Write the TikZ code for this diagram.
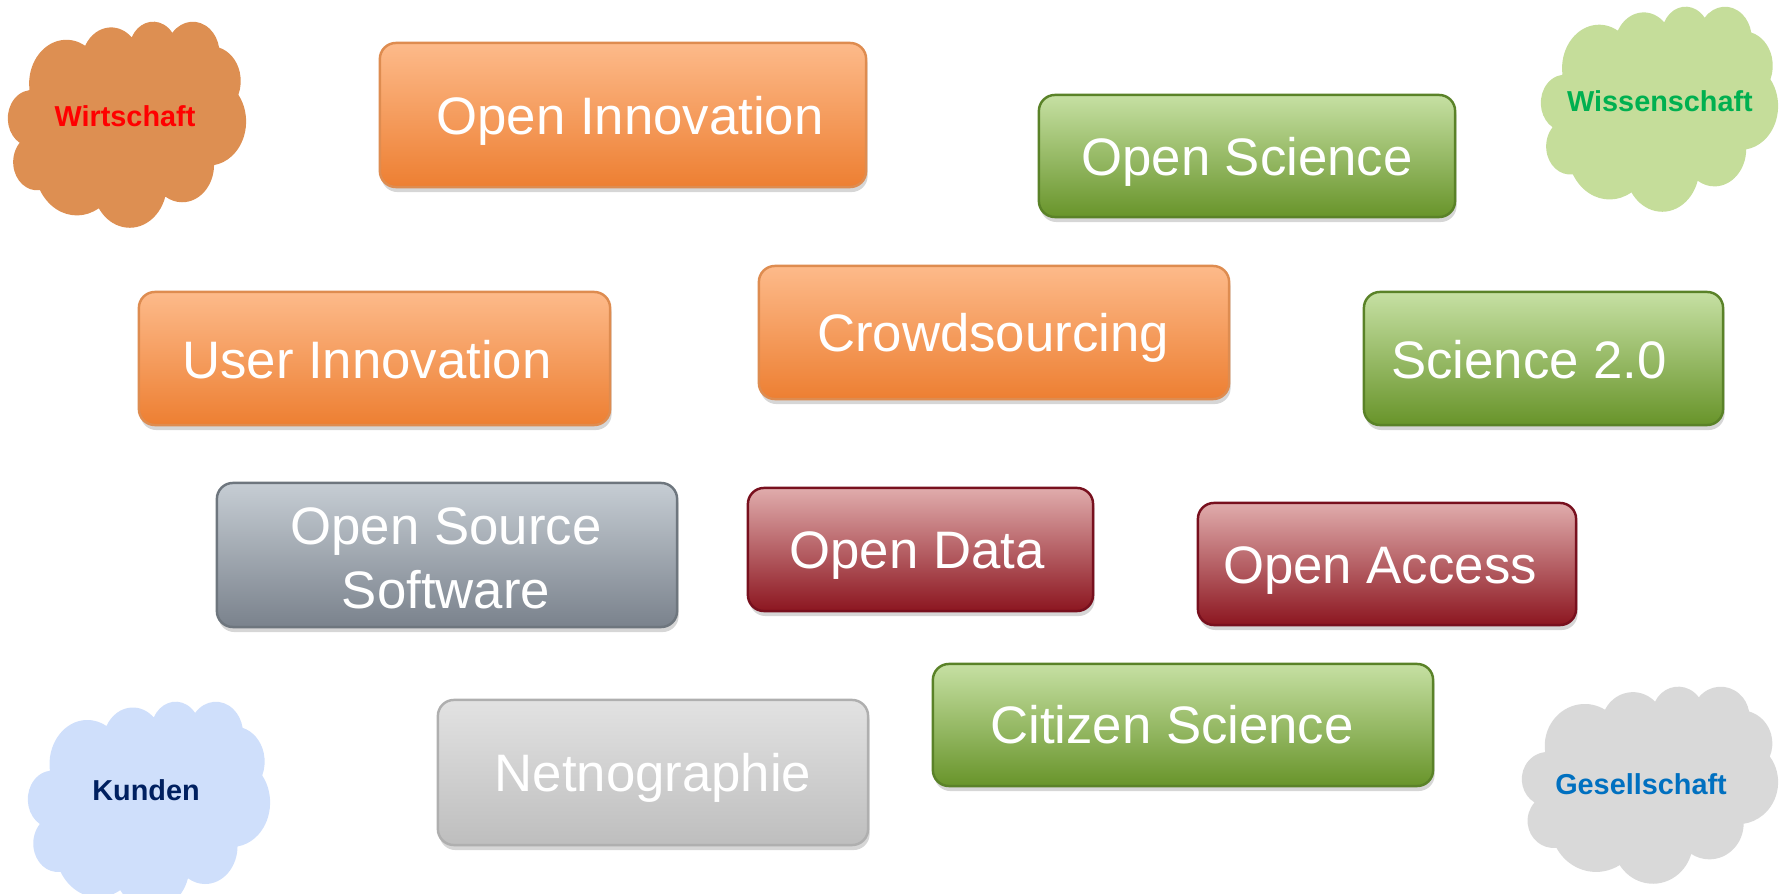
\documentclass[tikz,border=0pt]{standalone}
\usepackage{fontspec}
\setmainfont{Liberation Sans}
\usetikzlibrary{shadows,calc}
\definecolor{orT}{RGB}{253,186,138}
\definecolor{orB}{RGB}{237,127,50}
\definecolor{orD}{RGB}{222,140,80}
\definecolor{grT}{RGB}{198,224,163}
\definecolor{grB}{RGB}{104,148,42}
\definecolor{grD}{RGB}{90,130,40}
\definecolor{gyT}{RGB}{198,205,212}
\definecolor{gyB}{RGB}{122,130,140}
\definecolor{gyD}{RGB}{110,118,126}
\definecolor{rdT}{RGB}{224,172,172}
\definecolor{rdB}{RGB}{140,22,32}
\definecolor{rdD}{RGB}{120,16,30}
\definecolor{ltT}{RGB}{226,226,226}
\definecolor{ltB}{RGB}{190,190,190}
\definecolor{ltD}{RGB}{175,175,175}
\definecolor{cWirt}{RGB}{221,143,82}
\definecolor{cWiss}{RGB}{197,221,154}
\definecolor{cKund}{RGB}{207,223,251}
\definecolor{cGes}{RGB}{217,217,217}
\definecolor{tWiss}{RGB}{0,176,80}
\definecolor{tKund}{RGB}{0,32,96}
\definecolor{tGes}{RGB}{0,112,192}
\tikzset{
  boxbase/.style={rectangle, rounded corners=0.16cm, line width=0.7pt, inner sep=0pt,
    drop shadow={shadow xshift=0.015cm, shadow yshift=-0.05cm, opacity=0.16, fill=black}},
  orbox/.style={boxbase, draw=orD, top color=orT, bottom color=orB},
  grbox/.style={boxbase, draw=grD, top color=grT, bottom color=grB},
  gybox/.style={boxbase, draw=gyD, top color=gyT, bottom color=gyB},
  rdbox/.style={boxbase, draw=rdD, top color=rdT, bottom color=rdB},
  ltbox/.style={boxbase, draw=ltD, top color=ltT, bottom color=ltB},
  boxtext/.style={text=white, font=\fontsize{15}{18.2}\selectfont, inner sep=0pt, text height=10.8pt, text depth=0pt},
  boxtext2/.style={text=white, font=\fontsize{15}{18.2}\selectfont, align=center, inner sep=0pt},
  cloudtext/.style={font=\fontsize{8.2}{10}\selectfont\bfseries, inner sep=0pt, text height=5.9pt, text depth=0pt}
}
% PowerPoint-like cloud outline in a 432 x 432 box, placed at (#1,#2) with size #3 x #4
\newcommand{\pptcloud}[5]{%
  \begin{scope}[shift={(#1,#2)}, xscale=#3/432, yscale=#4/432]
    \fill[#5] (39.00,143.70)
      arc[start angle=-187.745, end angle=-59.637, x radius=67.53, y radius=91.90]
      arc[start angle=-152.02, end angle=-45.45, x radius=53.33, y radius=72.67]
      arc[start angle=-153.49, end angle=-37.30, x radius=43.65, y radius=59.45]
      arc[start angle=-139.69, end angle=-10.21, x radius=48.57, y radius=65.95]
      arc[start angle=-74.77, end angle=23.21, x radius=53.33, y radius=72.73]
      arc[start angle=-37.54, end angle=81.86, x radius=67.75, y radius=92.20]
      arc[start angle=0.46, end angle=121.98, x radius=57.85, y radius=78.67]
      arc[start angle=16.85, end angle=146.25, x radius=67.52, y radius=92.15]
      arc[start angle=59.00, end angle=150.20, x radius=77.20, y radius=105.43]
      arc[start angle=-276.69, end angle=-136.89, x radius=43.60, y radius=59.18]
      arc[start angle=-239.65, end angle=-95.89, x radius=43.45, y radius=59.45]
      -- cycle;
  \end{scope}}
\begin{document}
\begin{tikzpicture}[x=0.01cm,y=-0.01cm]
\useasboundingbox (0,0) rectangle (1787,894);
% clouds
\pptcloud{8}{21}{238}{206}{cWirt}
\node[cloudtext, text=red] (wirtT) at (125,116) {Wirtschaft};
\pptcloud{1541}{6}{237}{205}{cWiss}
\node[cloudtext, text=tWiss] (wissT) at (1660,101) {Wissenschaft};
\pptcloud{28}{701}{242}{208}{cKund}
\node[cloudtext, text=tKund] (kundT) at (146,790) {Kunden};
\pptcloud{1522}{686}{256}{197}{cGes}
\node[cloudtext, text=tGes] (gesT) at (1641,784) {Gesellschaft};
% boxes
\node[orbox, minimum width=4.86cm, minimum height=1.44cm] (oi) at (623,115) {};
\node[boxtext] (oiT) at (630,116) {Open Innovation};
\node[grbox, minimum width=4.16cm, minimum height=1.22cm] (os) at (1247,156) {};
\node[boxtext] (osT) at (1247,157) {Open Science};
\node[orbox, minimum width=4.71cm, minimum height=1.33cm] (ui) at (374.5,358.5) {};
\node[boxtext] (uiT) at (367,360) {User Innovation};
\node[orbox, minimum width=4.70cm, minimum height=1.33cm] (cs) at (994,332.5) {};
\node[boxtext] (csT) at (993,333) {Crowdsourcing};
\node[grbox, minimum width=3.59cm, minimum height=1.33cm] (s2) at (1543.5,358.5) {};
\node[boxtext] (s2T) at (1529,360) {Science 2.0};
\node[gybox, minimum width=4.60cm, minimum height=1.44cm] (oss) at (447,555) {};
\node[boxtext2] (ossT) at (446,558) {Open Source\\Software};
\node[rdbox, minimum width=3.45cm, minimum height=1.23cm] (od) at (920.5,549.5) {};
\node[boxtext] (odT) at (917,550) {Open Data};
\node[rdbox, minimum width=3.78cm, minimum height=1.22cm] (oa) at (1387,564) {};
\node[boxtext] (oaT) at (1380,565) {Open Access};
\node[grbox, minimum width=5.00cm, minimum height=1.22cm] (cis) at (1183,725) {};
\node[boxtext] (cisT) at (1172,725) {Citizen Science};
\node[ltbox, minimum width=4.30cm, minimum height=1.45cm] (net) at (653,772.5) {};
\node[boxtext] (netT) at (653,773) {Netnographie};
\end{tikzpicture}
\end{document}
